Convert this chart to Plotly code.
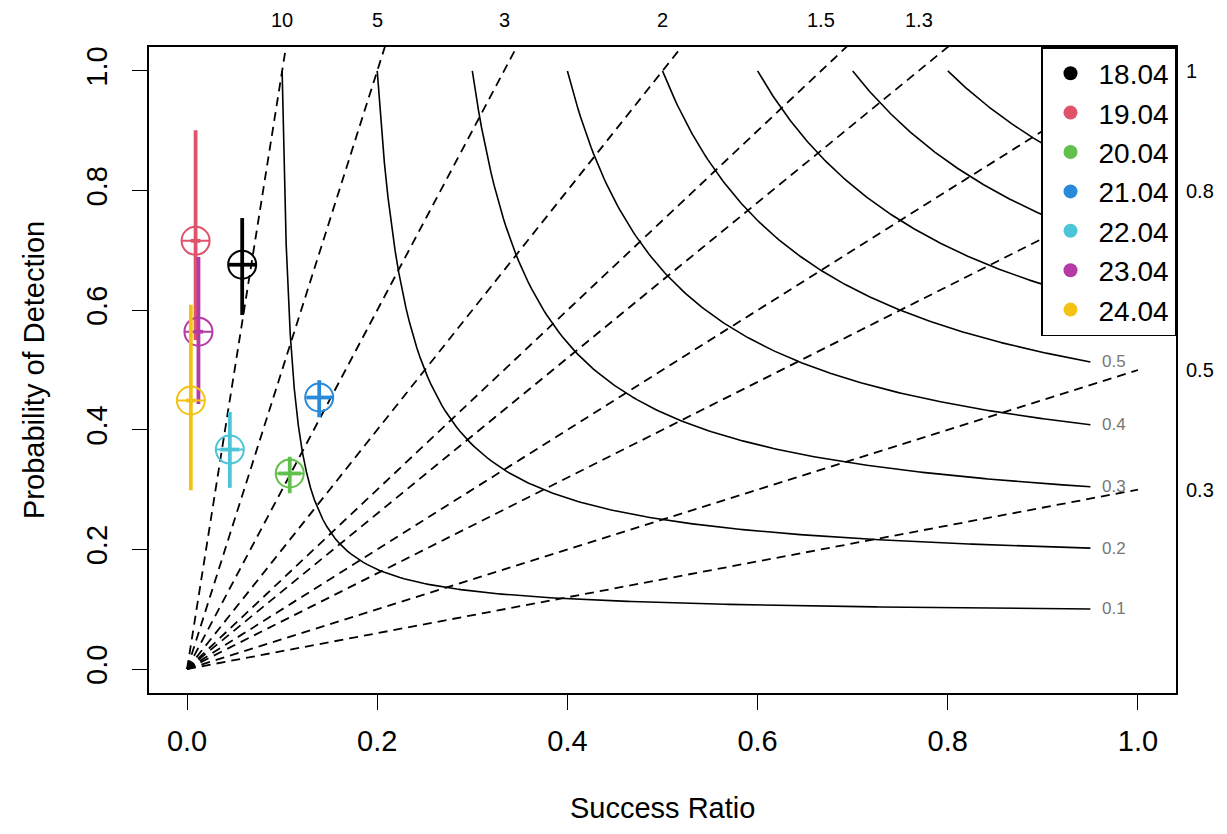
import numpy as np
import plotly.graph_objects as go

# ---- data ----
dates = ["18.04", "19.04", "20.04", "21.04", "22.04", "23.04", "24.04"]
colors = ["#000000", "#DF536B", "#61C04C", "#2A8ADA", "#4CC6D6", "#B63AA6", "#F3C214"]
success_ratio = [0.058, 0.009, 0.108, 0.139, 0.045, 0.012, 0.004]
pod = [0.676, 0.716, 0.327, 0.454, 0.367, 0.564, 0.449]
pod_upper = [0.754, 0.901, 0.355, 0.483, 0.430, 0.689, 0.609]
pod_lower = [0.592, 0.550, 0.294, 0.421, 0.303, 0.443, 0.299]
sr_halfwidth = [0.014, 0.005, 0.012, 0.013, 0.010, 0.005, 0.005]

bias_values = [0.3, 0.5, 0.8, 1, 1.3, 1.5, 2, 3, 5, 10]
bias_labels = ["0.3", "0.5", "0.8", "1", "1.3", "1.5", "2", "3", "5", "10"]
csi_values = [0.1, 0.2, 0.3, 0.4, 0.5, 0.6, 0.7, 0.8, 0.9]
csi_labels = ["0.1", "0.2", "0.3", "0.4", "0.5", "0.6", "0.7", "0.8", "0.9"]

x_ticks = [0.0, 0.2, 0.4, 0.6, 0.8, 1.0]
y_ticks = [0.0, 0.2, 0.4, 0.6, 0.8, 1.0]
x_title = "Success Ratio"
y_title = "Probability of Detection"

FONT = "Liberation Sans, Arial, Helvetica, sans-serif"
SR_END = 0.95

fig = go.Figure()

# CSI isolines
for c in csi_values:
    sr = np.linspace(c, SR_END, 200)
    p = 1.0 / (1.0 / c - 1.0 / sr + 1.0)
    fig.add_trace(go.Scatter(x=sr, y=p, mode="lines", showlegend=False, hoverinfo="skip",
                             line=dict(color="black", width=1.6)))

# bias lines
for b in bias_values:
    sr_end = min(1.0, 1.06 / b)
    fig.add_trace(go.Scatter(x=[0, sr_end], y=[0, b * sr_end], mode="lines", showlegend=False,
                             hoverinfo="skip",
                             line=dict(color="black", width=1.8, dash="9px,6px")))

# data points
for i, d in enumerate(dates):
    c = colors[i]
    fig.add_trace(go.Scatter(
        x=[success_ratio[i]], y=[pod[i]], mode="markers", showlegend=False, name=d,
        marker=dict(symbol="circle-cross-open", size=28, color=c, line=dict(width=2, color=c)),
        error_y=dict(type="data", symmetric=False, array=[pod_upper[i] - pod[i]],
                     arrayminus=[pod[i] - pod_lower[i]], color=c, thickness=3.8, width=0),
        error_x=dict(type="data", array=[sr_halfwidth[i]], color=c, thickness=3.8, width=0),
    ))

# legend entries (filled dots)
for i, d in enumerate(dates):
    fig.add_trace(go.Scatter(x=[None], y=[None], mode="markers", name=d, legendgroup=d,
                             marker=dict(symbol="circle", size=14, color=colors[i])))

annotations = []
# CSI labels at right end of curves
for c, lab in zip(csi_values, csi_labels):
    if c <= 0.5:
        p = 1.0 / (1.0 / c - 1.0 / SR_END + 1.0)
        annotations.append(dict(x=0.975, y=p, xref="x", yref="y", text=lab, showarrow=False,
                                font=dict(size=17, color="#777777", family=FONT),
                                xanchor="center", yanchor="middle"))
# bias labels
for b, lab in zip(bias_values, bias_labels):
    if b > 1:
        annotations.append(dict(x=1.0 / b, y=1.042, xref="x", yref="paper", text=lab,
                                showarrow=False, font=dict(size=20, color="black", family=FONT),
                                xanchor="center", yanchor="middle"))
    else:
        annotations.append(dict(x=1.008, y=b, xref="paper", yref="y", text=lab,
                                showarrow=False, font=dict(size=20, color="black", family=FONT),
                                xanchor="left", yanchor="middle"))

# axis titles
annotations.append(dict(x=0.5, y=-0.178, xref="paper", yref="paper", text=x_title,
                        showarrow=False, font=dict(size=29, color="black", family=FONT),
                        xanchor="center", yanchor="middle"))
annotations.append(dict(x=-0.112, y=0.5, xref="paper", yref="paper", text=y_title,
                        showarrow=False, textangle=-90,
                        font=dict(size=29, color="black", family=FONT),
                        xanchor="center", yanchor="middle"))

axis_common = dict(showgrid=False, zeroline=False, showline=True, mirror=True,
                   linecolor="black", linewidth=1.5, ticks="outside", ticklen=15,
                   tickwidth=1.4, tickcolor="black", automargin=False,
                   tickfont=dict(size=29, color="black", family=FONT))

fig.update_layout(
    width=1211, height=818,
    margin=dict(l=141, r=43, t=39, b=133),
    paper_bgcolor="white", plot_bgcolor="white",
    font=dict(family=FONT, color="black"),
    xaxis=dict(range=[-0.04, 1.04], tickvals=x_ticks, ticktext=[f"{v:.1f}" for v in x_ticks],
               ticklabelstandoff=6,
               **axis_common),
    yaxis=dict(range=[-0.04, 1.04], tickvals=y_ticks, ticktext=[f"{v:.1f}" for v in y_ticks],
               tickangle=-90, ticklabelstandoff=14,
               **axis_common),
    legend=dict(x=1, xanchor="right", y=1, yanchor="top", bgcolor="white",
                bordercolor="black", borderwidth=1.5, font=dict(size=28, family=FONT, color="black"),
                tracegroupgap=0, itemwidth=46),
    annotations=annotations,
)

fig.write_html("out.html")
